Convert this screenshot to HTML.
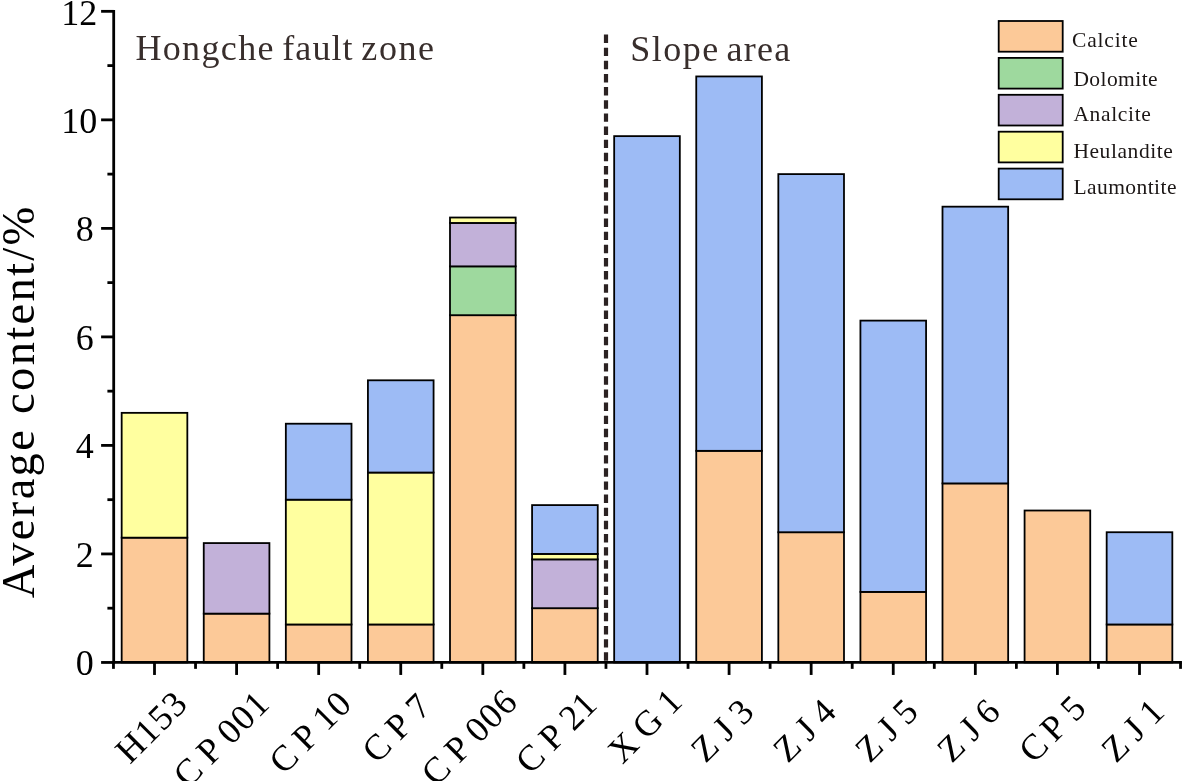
<!DOCTYPE html>
<html><head><meta charset="utf-8"><title>chart</title>
<style>
html,body{margin:0;padding:0;background:#fff;}
body{width:1182px;height:781px;overflow:hidden;font-family:"Liberation Serif",serif;}
svg{display:block;}
text{font-family:"Liberation Serif",serif;}
</style></head><body>
<div style="will-change:transform;width:1182px;height:781px;background:#fff"><svg width="1182" height="781" viewBox="0 0 1182 781">
<rect width="1182" height="781" fill="#ffffff"/>

<g stroke="#000" stroke-width="1.8" stroke-linejoin="miter">
<rect x="121.67" y="537.65" width="65.66" height="124.80" fill="#fcc998"/>
<rect x="121.67" y="412.85" width="65.66" height="124.80" fill="#ffff9f"/>
<rect x="203.75" y="613.62" width="65.66" height="48.83" fill="#fcc998"/>
<rect x="203.75" y="543.08" width="65.66" height="70.54" fill="#c2b1d9"/>
<rect x="285.84" y="624.47" width="65.66" height="37.98" fill="#fcc998"/>
<rect x="285.84" y="499.67" width="65.66" height="124.80" fill="#ffff9f"/>
<rect x="285.84" y="423.71" width="65.66" height="75.96" fill="#9dbbf5"/>
<rect x="367.92" y="624.47" width="65.66" height="37.98" fill="#fcc998"/>
<rect x="367.92" y="472.54" width="65.66" height="151.93" fill="#ffff9f"/>
<rect x="367.92" y="380.30" width="65.66" height="92.24" fill="#9dbbf5"/>
<rect x="450.00" y="315.19" width="65.66" height="347.26" fill="#fcc998"/>
<rect x="450.00" y="266.35" width="65.66" height="48.83" fill="#9ed99e"/>
<rect x="450.00" y="222.94" width="65.66" height="43.41" fill="#c2b1d9"/>
<rect x="450.00" y="217.52" width="65.66" height="5.43" fill="#ffff9f"/>
<rect x="532.08" y="608.19" width="65.66" height="54.26" fill="#fcc998"/>
<rect x="532.08" y="559.36" width="65.66" height="48.83" fill="#c2b1d9"/>
<rect x="532.08" y="553.93" width="65.66" height="5.43" fill="#ffff9f"/>
<rect x="532.08" y="505.10" width="65.66" height="48.83" fill="#9dbbf5"/>
<rect x="614.17" y="136.13" width="65.66" height="526.32" fill="#9dbbf5"/>
<rect x="696.25" y="450.84" width="65.66" height="211.61" fill="#fcc998"/>
<rect x="696.25" y="76.44" width="65.66" height="374.39" fill="#9dbbf5"/>
<rect x="778.33" y="532.23" width="65.66" height="130.22" fill="#fcc998"/>
<rect x="778.33" y="174.11" width="65.66" height="358.12" fill="#9dbbf5"/>
<rect x="860.42" y="591.91" width="65.66" height="70.54" fill="#fcc998"/>
<rect x="860.42" y="320.61" width="65.66" height="271.30" fill="#9dbbf5"/>
<rect x="942.50" y="483.39" width="65.66" height="179.06" fill="#fcc998"/>
<rect x="942.50" y="206.67" width="65.66" height="276.73" fill="#9dbbf5"/>
<rect x="1024.58" y="510.52" width="65.66" height="151.93" fill="#fcc998"/>
<rect x="1106.67" y="624.47" width="65.66" height="37.98" fill="#fcc998"/>
<rect x="1106.67" y="532.23" width="65.66" height="92.24" fill="#9dbbf5"/>
</g>
<line x1="606" y1="34.55" x2="606" y2="661.2" stroke="#2b2222" stroke-width="4.2" stroke-dasharray="8.4 4.743"/>
<g stroke="#000" stroke-width="2.8" fill="none">
<line x1="113.7" y1="9.93" x2="113.7" y2="663.85"/>
<line x1="112.3" y1="662.45" x2="1181.94" y2="662.45"/>
<line x1="101.10" y1="662.45" x2="113.7" y2="662.45"/>
<line x1="107.40" y1="608.19" x2="113.7" y2="608.19"/>
<line x1="101.10" y1="553.93" x2="113.7" y2="553.93"/>
<line x1="107.40" y1="499.67" x2="113.7" y2="499.67"/>
<line x1="101.10" y1="445.41" x2="113.7" y2="445.41"/>
<line x1="107.40" y1="391.15" x2="113.7" y2="391.15"/>
<line x1="101.10" y1="336.89" x2="113.7" y2="336.89"/>
<line x1="107.40" y1="282.63" x2="113.7" y2="282.63"/>
<line x1="101.10" y1="228.37" x2="113.7" y2="228.37"/>
<line x1="107.40" y1="174.11" x2="113.7" y2="174.11"/>
<line x1="101.10" y1="119.85" x2="113.7" y2="119.85"/>
<line x1="107.40" y1="65.59" x2="113.7" y2="65.59"/>
<line x1="101.10" y1="11.33" x2="113.7" y2="11.33"/>
<line x1="154.50" y1="662.45" x2="154.50" y2="674.95"/>
<line x1="236.58" y1="662.45" x2="236.58" y2="674.95"/>
<line x1="318.67" y1="662.45" x2="318.67" y2="674.95"/>
<line x1="400.75" y1="662.45" x2="400.75" y2="674.95"/>
<line x1="482.83" y1="662.45" x2="482.83" y2="674.95"/>
<line x1="564.91" y1="662.45" x2="564.91" y2="674.95"/>
<line x1="647.00" y1="662.45" x2="647.00" y2="674.95"/>
<line x1="729.08" y1="662.45" x2="729.08" y2="674.95"/>
<line x1="811.16" y1="662.45" x2="811.16" y2="674.95"/>
<line x1="893.25" y1="662.45" x2="893.25" y2="674.95"/>
<line x1="975.33" y1="662.45" x2="975.33" y2="674.95"/>
<line x1="1057.41" y1="662.45" x2="1057.41" y2="674.95"/>
<line x1="1139.50" y1="662.45" x2="1139.50" y2="674.95"/>
<line x1="113.46" y1="662.45" x2="113.46" y2="668.85"/>
<line x1="195.54" y1="662.45" x2="195.54" y2="668.85"/>
<line x1="277.62" y1="662.45" x2="277.62" y2="668.85"/>
<line x1="359.71" y1="662.45" x2="359.71" y2="668.85"/>
<line x1="441.79" y1="662.45" x2="441.79" y2="668.85"/>
<line x1="523.87" y1="662.45" x2="523.87" y2="668.85"/>
<line x1="605.96" y1="662.45" x2="605.96" y2="668.85"/>
<line x1="688.04" y1="662.45" x2="688.04" y2="668.85"/>
<line x1="770.12" y1="662.45" x2="770.12" y2="668.85"/>
<line x1="852.21" y1="662.45" x2="852.21" y2="668.85"/>
<line x1="934.29" y1="662.45" x2="934.29" y2="668.85"/>
<line x1="1016.37" y1="662.45" x2="1016.37" y2="668.85"/>
<line x1="1098.45" y1="662.45" x2="1098.45" y2="668.85"/>
<line x1="1180.54" y1="662.45" x2="1180.54" y2="668.85"/>
</g>
<g font-size="36" fill="#000" text-anchor="end">
<text x="93.8" y="675.15">0</text>
<text x="93.8" y="566.63">2</text>
<text x="93.8" y="458.11">4</text>
<text x="93.8" y="349.59">6</text>
<text x="93.8" y="241.07">8</text>
<text x="97.2" y="132.55">10</text>
<text x="97.2" y="24.83">12</text>
</g>
<text transform="translate(34.2,598.2) rotate(-90)" font-size="46.5" fill="#000" textLength="391.5" lengthAdjust="spacing">Average content/%</text>
<g font-size="36" fill="#000" text-anchor="end">
<text transform="translate(189.00,706.00) rotate(-45)"><tspan letter-spacing="1.2">H</tspan><tspan letter-spacing="1.2">1</tspan><tspan letter-spacing="1.2">5</tspan><tspan letter-spacing="0">3</tspan></text>
<text transform="translate(271.08,706.00) rotate(-45)"><tspan letter-spacing="8.5">C</tspan><tspan letter-spacing="8.5">P</tspan><tspan letter-spacing="1.2">0</tspan><tspan letter-spacing="1.2">0</tspan><tspan letter-spacing="0">1</tspan></text>
<text transform="translate(353.17,706.00) rotate(-45)"><tspan letter-spacing="8.5">C</tspan><tspan letter-spacing="8.5">P</tspan><tspan letter-spacing="1.2">1</tspan><tspan letter-spacing="0">0</tspan></text>
<text transform="translate(432.63,708.62) rotate(-45)"><tspan letter-spacing="8.5">C</tspan><tspan letter-spacing="8.5">P</tspan><tspan letter-spacing="0">7</tspan></text>
<text transform="translate(519.03,704.30) rotate(-45)"><tspan letter-spacing="8.5">C</tspan><tspan letter-spacing="8.5">P</tspan><tspan letter-spacing="1.2">0</tspan><tspan letter-spacing="1.2">0</tspan><tspan letter-spacing="0">6</tspan></text>
<text transform="translate(598.85,706.57) rotate(-45)"><tspan letter-spacing="8.5">C</tspan><tspan letter-spacing="8.5">P</tspan><tspan letter-spacing="0">2</tspan><tspan letter-spacing="0">1</tspan></text>
<text transform="translate(683.97,703.53) rotate(-45)"><tspan letter-spacing="8.5">X</tspan><tspan letter-spacing="8.5">G</tspan><tspan letter-spacing="0">1</tspan></text>
<text transform="translate(755.80,713.78) rotate(-45)"><tspan letter-spacing="8.5">Z</tspan><tspan letter-spacing="8.5">J</tspan><tspan letter-spacing="0">3</tspan></text>
<text transform="translate(837.89,713.78) rotate(-45)"><tspan letter-spacing="8.5">Z</tspan><tspan letter-spacing="8.5">J</tspan><tspan letter-spacing="0">4</tspan></text>
<text transform="translate(919.97,713.78) rotate(-45)"><tspan letter-spacing="8.5">Z</tspan><tspan letter-spacing="8.5">J</tspan><tspan letter-spacing="0">5</tspan></text>
<text transform="translate(1002.05,713.78) rotate(-45)"><tspan letter-spacing="8.5">Z</tspan><tspan letter-spacing="8.5">J</tspan><tspan letter-spacing="0">6</tspan></text>
<text transform="translate(1087.67,710.24) rotate(-45)"><tspan letter-spacing="6">C</tspan><tspan letter-spacing="8.5">P</tspan><tspan letter-spacing="0">5</tspan></text>
<text transform="translate(1166.22,713.78) rotate(-45)"><tspan letter-spacing="8.5">Z</tspan><tspan letter-spacing="8.5">J</tspan><tspan letter-spacing="0">1</tspan></text>
</g>
<g font-size="36" fill="#382e2c">
<text x="135.4" y="60.4" letter-spacing="1.367">Hongche</text>
<text x="282.3" y="60.4" letter-spacing="1.075">fault</text>
<text x="361.3" y="60.4" letter-spacing="1.6">zone</text>
<text x="630.2" y="60.5" letter-spacing="1.5">Slope</text>
<text x="726.5" y="60.5" letter-spacing="1.267">area</text>
</g>
<g stroke="#000" stroke-width="1.8">
<rect x="998.7" y="21.00" width="64" height="30.7" fill="#fcc998"/>
<rect x="998.7" y="57.90" width="64" height="30.7" fill="#9ed99e"/>
<rect x="998.7" y="94.80" width="64" height="30.7" fill="#c2b1d9"/>
<rect x="998.7" y="131.70" width="64" height="30.7" fill="#ffff9f"/>
<rect x="998.7" y="168.60" width="64" height="30.7" fill="#9dbbf5"/>
</g>
<g font-size="21.5" fill="#1c1716">
<text x="1072.0" y="46.6" letter-spacing="0.817">Calcite</text>
<text x="1073.4" y="85.5" letter-spacing="0.429">Dolomite</text>
<text x="1073.4" y="120.60000000000001" letter-spacing="0.657">Analcite</text>
<text x="1073.4" y="157.8" letter-spacing="0.567">Heulandite</text>
<text x="1073.4" y="193.9" letter-spacing="0.444">Laumontite</text>
</g>
</svg></div></body></html>
